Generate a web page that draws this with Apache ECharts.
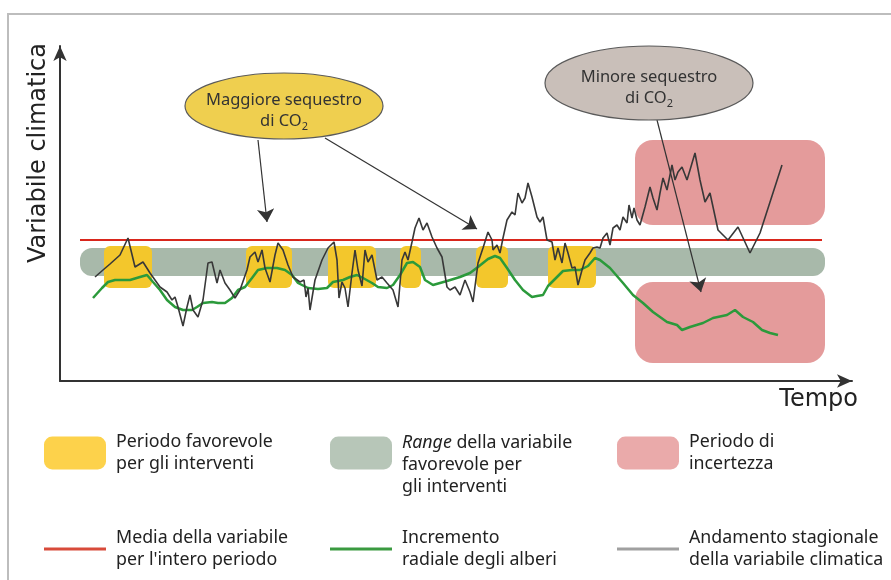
<!DOCTYPE html>
<html><head><meta charset="utf-8">
<script src="https://cdn.jsdelivr.net/npm/echarts@6/dist/echarts.min.js"></script>
<style>html,body{margin:0;padding:0;background:#fff}#c{width:891px;height:580px}</style>
</head><body><div id="c"></div>
<script>
// Chart units: x = time (0..792), y = climatic variable (0..335)
const seasonal = [[35,104],[43,111],[50,117],[60,126],[68,143],[75,114],[83,119],[90,108],[100,94],[107,89],[112,81],[115,84],[118,74],[123,55],[127,74],[130,86],[133,71],[138,64],[143,81],[148,118],[152,119],[157,98],[160,111],[165,98],[170,91],[175,83],[180,91],[187,111],[190,124],[195,129],[198,119],[202,131],[205,113],[210,99],[215,126],[218,138],[223,131],[228,116],[233,104],[240,99],[244,101],[246,84],[248,93],[250,71],[255,101],[262,121],[268,133],[274,139],[277,121],[279,83],[282,99],[285,93],[288,74],[292,108],[295,131],[298,111],[302,95],[305,131],[308,119],[312,126],[317,101],[322,104],[327,98],[333,91],[338,74],[342,121],[345,129],[348,121],[352,139],[355,153],[359,163],[363,151],[367,158],[372,144],[377,133],[382,124],[387,94],[390,91],[395,94],[400,86],[405,101],[410,89],[413,79],[418,118],[423,133],[428,149],[432,141],[433,131],[437,136],[440,128],[443,143],[447,161],[452,169],[455,166],[458,188],[462,178],[465,183],[468,198],[472,184],[477,164],[480,159],[483,164],[487,141],[492,139],[495,121],[498,133],[502,118],[505,138],[508,128],[512,113],[515,114],[518,96],[522,111],[525,121],[530,128],[533,133],[537,134],[540,133],[543,143],[547,148],[550,136],[553,153],[557,156],[560,151],[563,164],[567,158],[569,176],[572,163],[574,173],[577,161],[580,156],[585,174],[590,194],[593,183],[597,171],[600,188],[603,203],[607,191],[612,216],[615,201],[618,209],[622,214],[627,201],[630,211],[635,228],[640,201],[645,179],[650,188],[658,151],[668,141],[678,154],[690,128],[700,148],[722,216]];
const radialGrowth = [[33,83],[42,93],[48,99],[55,101],[63,101],[70,101],[80,104],[87,106],[93,99],[100,91],[107,81],[115,74],[123,71],[132,71],[137,74],[143,78],[152,79],[158,78],[165,78],[172,83],[178,91],[185,94],[192,103],[198,111],[207,113],[217,113],[225,111],[232,106],[238,98],[248,93],[258,92],[267,93],[273,99],[283,101],[290,104],[297,106],[303,103],[312,98],[318,94],[327,93],[333,96],[340,106],[347,118],[353,119],[360,114],[365,101],[373,96],[387,100],[400,104],[410,108],[418,114],[428,122],[435,125],[440,123],[447,113],[455,101],[463,91],[472,84],[477,85],[483,86],[488,95],[495,102],[503,110],[512,111],[520,111],[528,115],[535,123],[540,121],[550,113],[563,98],[573,86],[583,78],[593,69],[607,59],[617,56],[622,51],[630,54],[643,58],[653,63],[667,66],[675,71],[683,64],[693,59],[702,51],[710,48],[718,46]];
const meanLine = [[20,141],[762,141]];
const favourableRange = [[20,765,105,133]];
const favourablePeriods = [[44,92],[186,232],[268,316],[340,361],[416,448],[488,536]];
const favourableBand = [93,135];
const uncertaintyBoxes = [[575,765,156,241],[575,765,18,99]];
const questionMarks = [[743,211],[743,79]];
const calloutCentres = [[224,275],[589,298]];
const calloutRadii = [[99,33],[104,37]];
const calloutTexts = ['Maggiore sequestro\ndi CO{sub|2}','Minore sequestro\ndi CO{sub|2}'];
const calloutFills = ['#efcf4f','#c9bfb9'];
const arrows = [[[198,241],[207,159]],[[265,243],[417,152]],[[597,261],[641,89]]];

const LBL_FAV = 'Periodo favorevole\nper gli interventi';
const LBL_RANGE = 'Range della variabile\nfavorevole per\ngli interventi';
const LBL_UNC = 'Periodo di\nincertezza';
const LBL_MEAN = "Media della variabile\nper l'intero periodo";
const LBL_GROWTH = 'Incremento\nradiale degli alberi';
const LBL_SEAS = 'Andamento stagionale\ndella variabile climatica';

const FONT = 'Noto Sans';
function roundBox(radius, fill) {
  return function (params, api) {
    const tl = api.coord([api.value(0), api.value(3)]);
    const br = api.coord([api.value(1), api.value(2)]);
    return { type: 'rect', shape: { x: tl[0], y: tl[1], width: br[0]-tl[0], height: br[1]-tl[1], r: radius }, style: { fill: fill } };
  };
}
const legTxt = { fontFamily: FONT, fontSize: 17.8, color: '#222', lineHeight: 22, padding: [0,0,0,5] };
function leg(left, top, name, icon, color, w, h, extra) {
  return Object.assign({ left: left, top: top, padding: 0, selectedMode: false, itemWidth: w, itemHeight: h,
    data: [{ name: name, icon: icon, itemStyle: { color: color, borderWidth: 0 } }], textStyle: legTxt }, extra || {});
}

const chart = echarts.init(document.getElementById('c'), null, { renderer: 'canvas' });
chart.setOption({
  animation: false,
  backgroundColor: '#fff',
  grid: { left: 60, top: 46, width: 792, height: 335 },
  xAxis: { type: 'value', min: 0, max: 792, splitLine: { show: false }, axisTick: { show: false }, axisLabel: { show: false },
    axisLine: { onZero: false, symbol: ['none','arrow'], symbolSize: [10,15], lineStyle: { color: '#333', width: 2 } },
    name: 'Tempo', nameLocation: 'end', nameGap: 6,
    nameTextStyle: { fontFamily: 'DejaVu Sans', fontSize: 24, color: '#222', align: 'right', verticalAlign: 'top', padding: [7,0,0,0] } },
  yAxis: { type: 'value', min: 0, max: 335, splitLine: { show: false }, axisTick: { show: false }, axisLabel: { show: false },
    axisLine: { onZero: false, symbol: ['none','arrow'], symbolSize: [10,15], lineStyle: { color: '#333', width: 2 } },
    name: 'Variabile climatica', nameLocation: 'end', nameGap: 3, nameRotate: 90,
    nameTextStyle: { fontFamily: 'DejaVu Sans', fontSize: 24, color: '#222', align: 'right', verticalAlign: 'bottom', padding: [0,0,9,0] } },
  graphic: [{ type: 'polyline', shape: { points: [[8,580],[8,14],[891,14]] }, style: { stroke: '#bdbdbd', lineWidth: 2, fill: null }, silent: true }],
  legend: [
    leg(44, 431, LBL_FAV, 'roundRect', '#fdd24b', 62, 33),
    leg(330, 408, LBL_RANGE, 'roundRect', '#b7c6b8', 62, 33, {
      formatter: function () { return '{i|Range} della variabile\nfavorevole per\ngli interventi'; },
      textStyle: Object.assign({}, legTxt, { padding: [24,0,0,5], rich: { i: { fontFamily: FONT, fontSize: 17.8, fontStyle: 'italic', color: '#222', lineHeight: 22 } } }) }),
    leg(617, 431, LBL_UNC, 'roundRect', '#eaaaaa', 62, 33),
    leg(44, 527, LBL_MEAN, 'rect', '#d84a3a', 62, 3),
    leg(330, 527, LBL_GROWTH, 'rect', '#3a9a40', 62, 3),
    leg(617, 527, LBL_SEAS, 'rect', '#a0a0a0', 62, 3)
  ],
  series: [
    { name: LBL_RANGE, type: 'custom', z: 1, data: favourableRange, renderItem: roundBox(12, '#a8b9aa'), itemStyle: { color: '#a8b9aa' } },
    { name: LBL_FAV, type: 'custom', z: 2, data: favourablePeriods.map(p => [p[0], p[1], favourableBand[0], favourableBand[1]]), renderItem: roundBox(6, '#f3c72c'), itemStyle: { color: '#f3c72c' } },
    { name: LBL_UNC, type: 'custom', z: 2, data: uncertaintyBoxes, renderItem: roundBox(18, '#e49b9b'), itemStyle: { color: '#e49b9b' } },
    { name: LBL_MEAN, type: 'line', z: 3, data: meanLine, showSymbol: false, lineStyle: { color: '#d9261c', width: 2 }, itemStyle: { color: '#d9261c' } },
    { name: LBL_GROWTH, type: 'line', z: 4, data: radialGrowth, showSymbol: false, lineStyle: { color: '#2b9a3b', width: 2.5 }, itemStyle: { color: '#2b9a3b' } },
    { name: LBL_SEAS, type: 'line', z: 5, data: seasonal, showSymbol: false, lineStyle: { color: '#383838', width: 1.6 }, itemStyle: { color: '#383838' } },
    { type: 'lines', coordinateSystem: 'cartesian2d', z: 6, symbol: ['none','arrow'], symbolSize: [8,13],
      lineStyle: { color: '#333', width: 1.2, opacity: 1 }, data: arrows.map(a => ({ coords: a })) },
    { type: 'custom', z: 7, data: calloutCentres.map((c, i) => [c[0], c[1], calloutRadii[i][0], calloutRadii[i][1]]),
      renderItem: function (params, api) {
        const c = api.coord([api.value(0), api.value(1)]);
        const s = api.size([api.value(2), api.value(3)]);
        const i = params.dataIndex;
        return { type: 'group', children: [
          { type: 'ellipse', shape: { cx: c[0], cy: c[1], rx: s[0], ry: s[1] }, style: { fill: calloutFills[i], stroke: '#5a5a5a', lineWidth: 1.2 } },
          { type: 'text', x: c[0], y: c[1] + 5, style: { text: calloutTexts[i], align: 'center', verticalAlign: 'middle', fontFamily: FONT, fontSize: 16.5, lineHeight: 21, fill: '#333',
            rich: { sub: { fontFamily: FONT, fontSize: 11, fill: '#333', verticalAlign: 'bottom', lineHeight: 14 } } } }
        ] };
      } },
    { type: 'scatter', z: 7, data: questionMarks, symbolSize: 1, itemStyle: { opacity: 0 },
      label: { show: true, position: 'inside', formatter: '?', fontFamily: 'DejaVu Sans', fontSize: 22, fontWeight: 'bold', color: '#222' } }
  ]
});
</script></body></html>
